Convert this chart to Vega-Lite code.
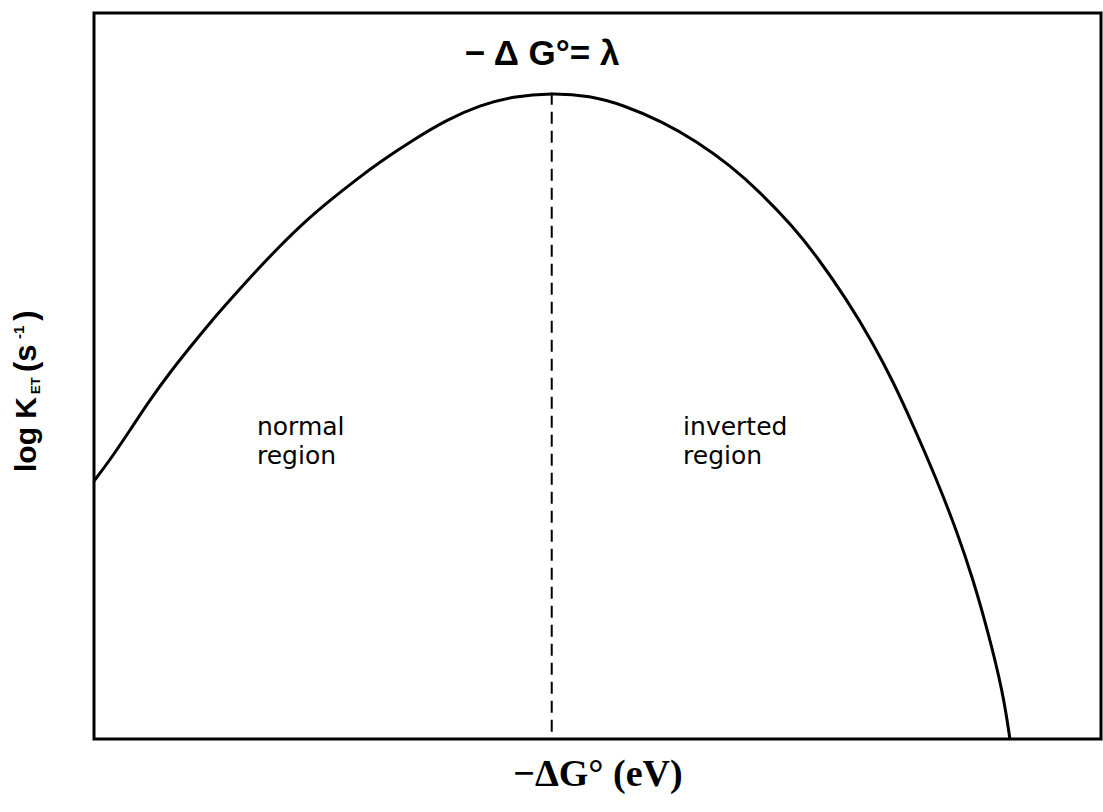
{
  "$schema": "https://vega.github.io/schema/vega-lite/v6.json",
  "autosize": "none",
  "width": 1007,
  "height": 726,
  "padding": {"left": 94, "top": 13, "right": 2, "bottom": 73},
  "background": "white",
  "config": {
    "view": {"stroke": "black", "strokeWidth": 3},
    "axis": {"domain": false, "ticks": false, "labels": false, "grid": false}
  },
  "datasets": {
    "curve": [
      {"dG": 0.000, "logk": 3.554},
      {"dG": 0.035, "logk": 3.843},
      {"dG": 0.079, "logk": 4.256},
      {"dG": 0.122, "logk": 4.669},
      {"dG": 0.166, "logk": 5.050},
      {"dG": 0.210, "logk": 5.399},
      {"dG": 0.253, "logk": 5.730},
      {"dG": 0.297, "logk": 6.047},
      {"dG": 0.356, "logk": 6.460},
      {"dG": 0.406, "logk": 6.790},
      {"dG": 0.457, "logk": 7.107},
      {"dG": 0.516, "logk": 7.424},
      {"dG": 0.575, "logk": 7.715},
      {"dG": 0.625, "logk": 7.950},
      {"dG": 0.697, "logk": 8.250},
      {"dG": 0.771, "logk": 8.530},
      {"dG": 0.843, "logk": 8.730},
      {"dG": 0.915, "logk": 8.850},
      {"dG": 1.000, "logk": 8.900},
      {"dG": 1.084, "logk": 8.860},
      {"dG": 1.156, "logk": 8.733},
      {"dG": 1.243, "logk": 8.500},
      {"dG": 1.317, "logk": 8.230},
      {"dG": 1.390, "logk": 7.900},
      {"dG": 1.455, "logk": 7.534},
      {"dG": 1.527, "logk": 7.060},
      {"dG": 1.580, "logk": 6.640},
      {"dG": 1.645, "logk": 6.050},
      {"dG": 1.702, "logk": 5.450},
      {"dG": 1.746, "logk": 4.920},
      {"dG": 1.789, "logk": 4.330},
      {"dG": 1.842, "logk": 3.560},
      {"dG": 1.885, "logk": 2.860},
      {"dG": 1.920, "logk": 2.210},
      {"dG": 1.953, "logk": 1.480},
      {"dG": 1.986, "logk": 0.640},
      {"dG": 2.001, "logk": 0.000}
    ],
    "peak": [
      {"dG": 1.000, "logk": 8.900}
    ],
    "anchor": [{}]
  },
  "layer": [
    {
      "data": {"name": "curve"},
      "mark": {"type": "line", "color": "black", "strokeWidth": 3, "interpolate": "basis"},
      "encoding": {
        "x": {
          "field": "dG", "type": "quantitative",
          "scale": {"domain": [0, 2.2], "nice": false, "zero": false},
          "axis": {
            "title": "−ΔG° (eV)",
            "titleFont": "Liberation Serif",
            "titleFontWeight": "bold",
            "titleFontSize": 38,
            "titleColor": "black",
            "titleBaseline": "alphabetic",
            "titleY": 46
          }
        },
        "y": {
          "field": "logk", "type": "quantitative",
          "scale": {"domain": [0, 10], "nice": false, "zero": false},
          "axis": {"title": null}
        }
      }
    },
    {
      "data": {"name": "peak"},
      "mark": {"type": "rule", "color": "black", "strokeWidth": 2, "strokeDash": [12, 7]},
      "encoding": {
        "x": {"field": "dG", "type": "quantitative"},
        "y": {"field": "logk", "type": "quantitative"},
        "y2": {"datum": 0}
      }
    },
    {
      "data": {"name": "anchor"},
      "mark": {"type": "text", "text": "− Δ G°= λ", "font": "Liberation Sans", "fontWeight": "bold", "fontSize": 35, "align": "center", "baseline": "alphabetic", "color": "black"},
      "encoding": {"x": {"datum": 0.979}, "y": {"datum": 9.284}}
    },
    {
      "data": {"name": "anchor"},
      "mark": {"type": "text", "text": ["normal", "region"], "font": "DejaVu Sans", "fontSize": 25, "lineHeight": 29, "align": "left", "baseline": "alphabetic", "color": "black"},
      "encoding": {"x": {"datum": 0.356}, "y": {"datum": 4.19}}
    },
    {
      "data": {"name": "anchor"},
      "mark": {"type": "text", "text": ["inverted", "region"], "font": "DejaVu Sans", "fontSize": 25, "lineHeight": 29, "align": "left", "baseline": "alphabetic", "color": "black"},
      "encoding": {"x": {"datum": 1.287}, "y": {"datum": 4.19}}
    },
    {
      "data": {"name": "anchor"},
      "mark": {"type": "text", "text": "log K", "font": "Liberation Sans", "fontWeight": "bold", "fontSize": 30, "angle": 270, "align": "left", "baseline": "alphabetic", "color": "black"},
      "encoding": {"x": {"datum": -0.127}, "y": {"datum": 3.678}}
    },
    {
      "data": {"name": "anchor"},
      "mark": {"type": "text", "text": "ET", "font": "Liberation Sans", "fontWeight": "bold", "fontSize": 13, "angle": 270, "align": "left", "baseline": "alphabetic", "color": "black"},
      "encoding": {"x": {"datum": -0.118}, "y": {"datum": 4.752}}
    },
    {
      "data": {"name": "anchor"},
      "mark": {"type": "text", "text": "(s", "font": "Liberation Sans", "fontWeight": "bold", "fontSize": 31, "angle": 270, "align": "left", "baseline": "alphabetic", "color": "black"},
      "encoding": {"x": {"datum": -0.127}, "y": {"datum": 5.055}}
    },
    {
      "data": {"name": "anchor"},
      "mark": {"type": "text", "text": "-1", "font": "Liberation Sans", "fontWeight": "bold", "fontSize": 15, "angle": 270, "align": "left", "baseline": "alphabetic", "color": "black"},
      "encoding": {"x": {"datum": -0.153}, "y": {"datum": 5.51}}
    },
    {
      "data": {"name": "anchor"},
      "mark": {"type": "text", "text": ")", "font": "Liberation Sans", "fontWeight": "bold", "fontSize": 31, "angle": 270, "align": "left", "baseline": "alphabetic", "color": "black"},
      "encoding": {"x": {"datum": -0.127}, "y": {"datum": 5.76}}
    }
  ]
}
